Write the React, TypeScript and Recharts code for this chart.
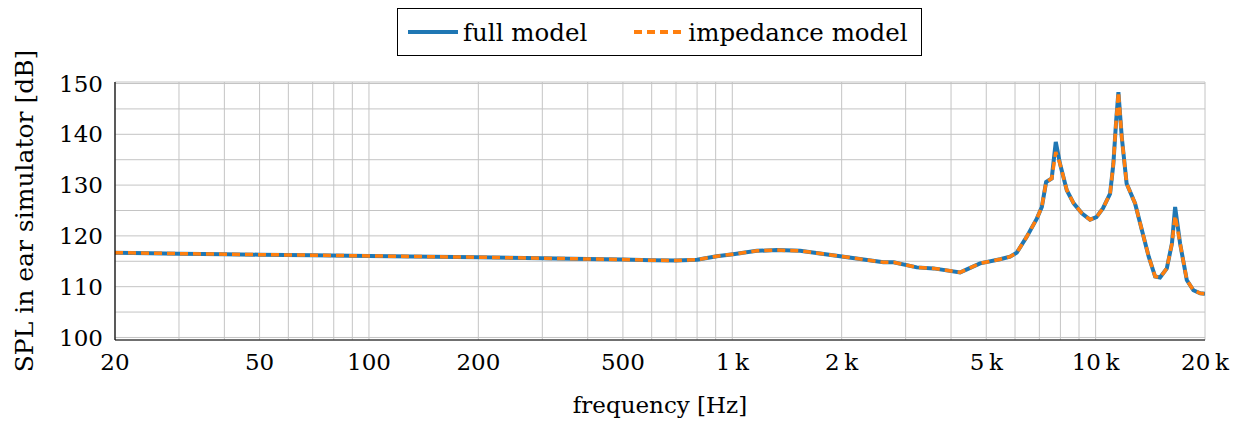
import React from "react"
import {
  LineChart,
  Line,
  XAxis,
  YAxis,
  CartesianGrid,
} from "recharts"

// frequency points [Hz]
const freqs = [
  20, 25, 30, 40, 50, 70, 100, 150, 200, 300, 400, 500, 600, 700, 800, 906,
  1005, 1168, 1328, 1537, 1980, 2606, 2780, 3220, 3580, 4236, 4422, 4808,
  5458, 5814, 6068, 6458, 6888, 7112, 7306, 7570, 7768, 7980, 8330, 8700,
  9180, 9652, 10050, 10470, 10960, 11190, 11390, 11554, 11800, 12170, 12840,
  13410, 14000, 14580, 15040, 15700, 16220, 16550, 17080, 17820, 18580,
  19400, 20000,
]

// SPL [dB], full model
const fullModel = [
  116.7, 116.6, 116.5, 116.4, 116.3, 116.2, 116.05, 115.9, 115.8, 115.6,
  115.45, 115.35, 115.2, 115.15, 115.3, 116.0, 116.4, 117.05, 117.2, 117.05,
  116.0, 114.8, 114.8, 113.8, 113.6, 112.8, 113.4, 114.6, 115.4, 115.9,
  116.7, 119.8, 123.4, 125.7, 130.6, 131.3, 138.5, 134.2, 129.0, 126.4,
  124.4, 123.2, 123.7, 125.4, 128.3, 134.2, 142.7, 148.3, 139.5, 130.3,
  126.4, 121.1, 115.9, 112.0, 111.8, 113.6, 118.5, 125.7, 118.5, 111.3,
  109.3, 108.7, 108.6,
]

// SPL [dB], impedance model
const impedanceModel = [
  116.7, 116.6, 116.5, 116.4, 116.3, 116.2, 116.05, 115.9, 115.8, 115.6,
  115.45, 115.35, 115.2, 115.15, 115.3, 116.0, 116.4, 117.05, 117.2, 117.05,
  116.0, 114.8, 114.8, 113.8, 113.6, 112.8, 113.4, 114.6, 115.4, 115.9,
  116.7, 119.8, 123.4, 125.7, 130.6, 131.3, 136.5, 134.2, 129.0, 126.4,
  124.4, 123.2, 123.7, 125.4, 128.3, 134.2, 142.7, 148.3, 139.5, 130.3,
  126.4, 121.1, 115.9, 112.0, 111.8, 113.6, 118.5, 124.0, 118.5, 111.3,
  109.3, 108.7, 108.6,
]

const xMajorTicks = [20, 50, 100, 200, 500, 1000, 2000, 5000, 10000, 20000]
const xGridTicks = [
  20, 30, 40, 50, 60, 70, 80, 90, 100, 200, 300, 400, 500, 600, 700, 800, 900,
  1000, 2000, 3000, 4000, 5000, 6000, 7000, 8000, 9000, 10000, 20000,
]
const yTicks = [100, 105, 110, 115, 120, 125, 130, 135, 140, 145, 150]

const data = freqs.map((f, i) => ({
  f,
  full: fullModel[i],
  impedance: impedanceModel[i],
}))

const FONT = "DejaVu Serif"
const FS = 23
const BLUE = "#1f77b4"
const ORANGE = "#ff7f0e"

function formatFreq(v: number) {
  if (!xMajorTicks.includes(v)) return ""
  if (v >= 1000) return `${v / 1000}\u2009k`
  return String(v)
}

function formatSpl(v: number) {
  return v % 10 === 0 ? String(v) : ""
}

function LegendBox() {
  return (
    <div
      style={{
        position: "absolute",
        left: 397,
        top: 8,
        width: 525,
        height: 48,
        border: "1px solid #000",
        background: "#fff",
        display: "flex",
        alignItems: "center",
        fontFamily: FONT,
        fontSize: 24.5,
        color: "#000",
        boxSizing: "border-box",
        whiteSpace: "nowrap",
      }}
    >
      <svg width={50} height={10} style={{ marginLeft: 10 }}>
        <line x1={0} y1={5} x2={50} y2={5} stroke={BLUE} strokeWidth={4} />
      </svg>
      <span style={{ marginLeft: 5 }}>full model</span>
      <svg width={48} height={10} style={{ marginLeft: 47 }}>
        <line
          x1={0}
          y1={5}
          x2={48}
          y2={5}
          stroke={ORANGE}
          strokeWidth={4}
          strokeDasharray="8 5"
        />
      </svg>
      <span style={{ marginLeft: 6 }}>impedance model</span>
    </div>
  )
}

export default function App() {
  return (
    <div
      style={{
        position: "absolute",
        left: 0,
        top: 0,
        width: 1248,
        height: 425,
        background: "#fff",
      }}
    >
      <LegendBox />
      <LineChart
        width={1248}
        height={425}
        data={data}
        margin={{ top: 82, right: 43, bottom: 0, left: 0 }}
      >
        <CartesianGrid stroke="#c4c4c4" strokeWidth={1} />
        <XAxis
          dataKey="f"
          type="number"
          scale="log"
          domain={[20, 20000]}
          allowDataOverflow
          ticks={xGridTicks}
          interval={0}
          tickFormatter={formatFreq}
          tickLine={false}
          tickMargin={8}
          height={85}
          axisLine={{ stroke: "#000", strokeWidth: 1.2 }}
          tick={{ fill: "#000", fontSize: FS, fontFamily: FONT }}
          label={{
            value: "frequency [Hz]",
            position: "insideBottom",
            offset: 12,
            fill: "#000",
            fontSize: FS,
            fontFamily: FONT,
          }}
        />
        <XAxis
          xAxisId="top"
          dataKey="f"
          type="number"
          scale="log"
          domain={[20, 20000]}
          orientation="top"
          tick={false}
          tickLine={false}
          height={0}
          axisLine={{ stroke: "#000", strokeWidth: 1.2 }}
        />
        <YAxis
          type="number"
          domain={[99.5, 150.3]}
          allowDataOverflow
          ticks={yTicks}
          interval={0}
          tickFormatter={formatSpl}
          tickLine={false}
          tickMargin={6}
          width={115}
          axisLine={{ stroke: "#000", strokeWidth: 1.2 }}
          tick={{ fill: "#000", fontSize: FS, fontFamily: FONT }}
          label={{
            value: "SPL in ear simulator [dB]",
            angle: -90,
            position: "insideLeft",
            offset: 24,
            fill: "#000",
            fontSize: 25,
            fontFamily: FONT,
            style: { textAnchor: "middle" },
          }}
        />
        <YAxis
          yAxisId="right"
          type="number"
          domain={[99.5, 150.3]}
          orientation="right"
          tick={false}
          tickLine={false}
          width={0}
          axisLine={{ stroke: "#000", strokeWidth: 1.2 }}
        />
        <Line
          type="linear"
          dataKey="full"
          stroke={BLUE}
          strokeWidth={4}
          dot={false}
          isAnimationActive={false}
        />
        <Line
          type="linear"
          dataKey="impedance"
          stroke={ORANGE}
          strokeWidth={3.5}
          strokeDasharray="8 5"
          dot={false}
          isAnimationActive={false}
        />
      </LineChart>
    </div>
  )
}
